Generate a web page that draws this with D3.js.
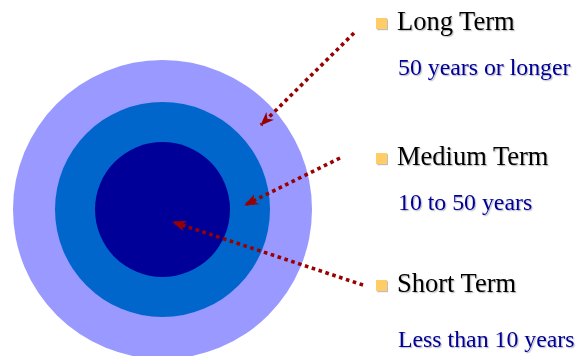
<!DOCTYPE html>
<html>
<head>
<meta charset="utf-8">
<script src="https://cdn.jsdelivr.net/npm/d3@7"></script>
<style>
  html, body { margin: 0; padding: 0; background: #fff; }
  svg { display: block; }
</style>
</head>
<body>
<script>
// ---- data ----
const terms = ["Short Term", "Medium Term", "Long Term"];
const descriptions = ["Less than 10 years", "10 to 50 years", "50 years or longer"];
const ringColors = ["#000099", "#0066CC", "#9999FF"];

// ---- layout ----
const W = 578, H = 356;
const cx = 162.5, cy = 209.5;
const svg = d3.select("body").append("svg").attr("width", W).attr("height", H);

const defs = svg.append("defs");
defs.append("marker")
  .attr("id", "head")
  .attr("markerUnits", "userSpaceOnUse")
  .attr("viewBox", "0 -6 14 12")
  .attr("refX", 13).attr("refY", 0)
  .attr("markerWidth", 14).attr("markerHeight", 12)
  .attr("orient", "auto")
  .append("path")
  .attr("d", "M0,-5.5 L14,0 L0,5.5 L4,0 Z")
  .attr("fill", "#990000");

const sh = defs.append("filter").attr("id", "shadow")
  .attr("x", "-5%").attr("y", "-10%").attr("width", "110%").attr("height", "130%");
sh.append("feDropShadow").attr("dx", 1.2).attr("dy", 1.2).attr("stdDeviation", 0.6)
  .attr("flood-color", "#000").attr("flood-opacity", 0.25);

// radius scale by term index
const rScale = d3.scaleOrdinal().domain(terms).range([67.5, 107.5, 149.5]);

// rings (largest first)
svg.append("g").selectAll("circle")
  .data(terms.map((t, i) => ({ t, i })).reverse())
  .join("circle")
  .attr("cx", cx).attr("cy", cy)
  .attr("r", d => rScale(d.t))
  .attr("fill", d => ringColors[d.i]);

// label positions (by term)
const labelY = d3.scaleOrdinal().domain(terms).range([292, 165, 30]);
const descY = d3.scaleOrdinal().domain(terms).range([347, 210, 75]);
const arrowFrom = d3.scaleOrdinal().domain(terms).range([[363, 285], [340, 158], [354, 33]]);
const arrowTo = d3.scaleOrdinal().domain(terms).range([[173, 222], [245, 205], [261, 125]]);

// arrows
svg.append("g").selectAll("line")
  .data(terms)
  .join("line")
  .attr("x1", d => arrowFrom(d)[0]).attr("y1", d => arrowFrom(d)[1])
  .attr("x2", d => arrowTo(d)[0]).attr("y2", d => arrowTo(d)[1])
  .attr("stroke", "#990000")
  .attr("stroke-width", 3.6)
  .attr("stroke-dasharray", "3.6,3.6")
  .attr("marker-end", "url(#head)");

// bullets
const g = svg.append("g");
g.selectAll("rect")
  .data(terms)
  .join("rect")
  .attr("x", 376).attr("y", d => labelY(d) - 12)
  .attr("width", 11).attr("height", 11)
  .attr("fill", "#FFCC66")
  .attr("filter", "url(#shadow)");

g.selectAll("text.term")
  .data(terms)
  .join("text")
  .attr("class", "term")
  .attr("x", 397).attr("y", d => labelY(d))
  .attr("font-family", "'Liberation Serif', 'Times New Roman', serif")
  .attr("font-size", 26.5)
  .attr("fill", "#000")
  .attr("filter", "url(#shadow)")
  .text(d => d);

g.selectAll("text.desc")
  .data(terms)
  .join("text")
  .attr("class", "desc")
  .attr("x", 398).attr("y", d => descY(d))
  .attr("font-family", "'Liberation Serif', 'Times New Roman', serif")
  .attr("font-size", 23.8)
  .attr("fill", "#000099")
  .attr("filter", "url(#shadow)")
  .text((d, i) => descriptions[i]);
</script>
</body>
</html>
